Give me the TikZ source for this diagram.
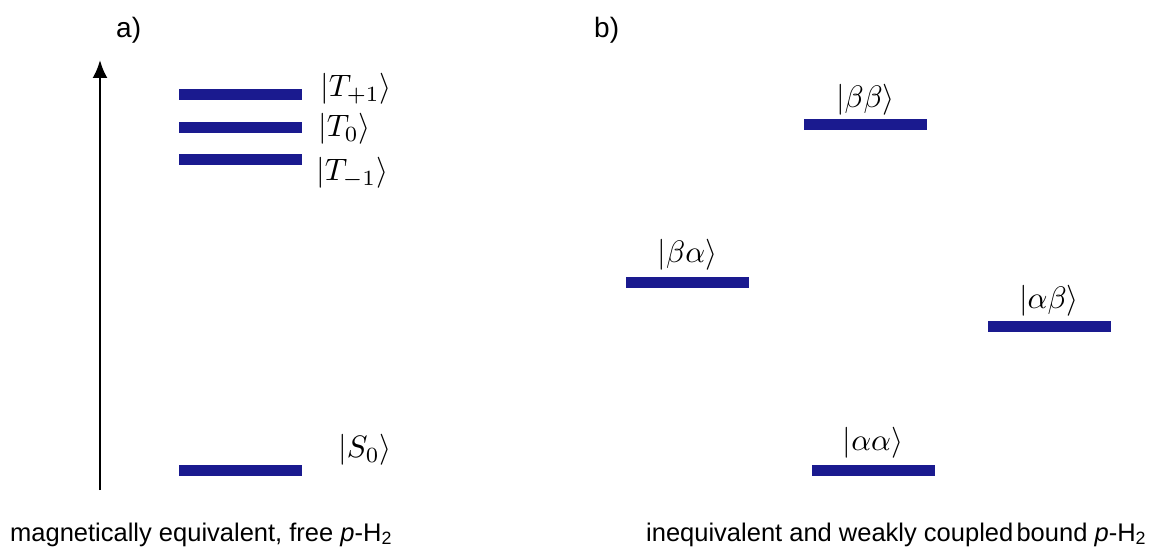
\documentclass[tikz,border=0pt]{standalone}
\usepackage{fontspec}
\setmainfont{Liberation Sans}
\usetikzlibrary{arrows.meta,positioning}
\definecolor{levelblue}{RGB}{26,26,143}
\newcommand{\ketlabel}[1]{\scalebox{3.1}{$#1$}}

\begin{document}
\begin{tikzpicture}[x=1pt,y=-1pt,
    level/.style={fill=levelblue,minimum width=123pt,minimum height=11pt,inner sep=0pt},
    ket/.style={inner sep=0pt},
    panel/.style={font=\fontsize{28}{30}\selectfont,inner sep=0pt,anchor=base west},
    caption/.style={font=\fontsize{25.5}{28}\selectfont,inner sep=0pt,anchor=base west}]
  \useasboundingbox (0,0) rectangle (1151,548);

  % panel labels
  \node[panel] (pa) at (116,38) {a)};
  \node[panel] (pb) at (594,38) {b)};

  % energy axis
  \coordinate (ebot) at (100,490);
  \coordinate (etop) at (100,60);
  \draw[line width=2.5pt,-{Latex[length=18pt,width=15pt]}] (ebot) -- (etop);

  % a) singlet and triplets
  \node[level] (tp) at (240,95) {};
  \node[level] (tz) at (240,128) {};
  \node[level] (tm) at (240,160) {};
  \node[level] (sz) at (240,470) {};
  \node[ket,anchor=west] (ktp) at (320,89) {\ketlabel{|T_{+1}\rangle}};
  \node[ket,anchor=west] (ktz) at (318,129) {\ketlabel{|T_0\rangle}};
  \node[ket,anchor=west] (ktm) at (316,173) {\ketlabel{|T_{-1}\rangle}};
  \node[ket,anchor=west] (ksz) at (338,450) {\ketlabel{|S_0\rangle}};

  % b) product states
  \node[level] (bb) at (865.5,125) {};
  \node[level] (ba) at (687.5,282) {};
  \node[level] (ab) at (1049,326) {};
  \node[level] (aa) at (873,470) {};
  \node[ket,above=4pt of bb] (kbb) {\ketlabel{|\beta\beta\rangle}};
  \node[ket,above=6pt of ba] (kba) {\ketlabel{|\beta\alpha\rangle}};
  \node[ket,above=4pt of ab] (kab) {\ketlabel{|\alpha\beta\rangle}};
  \node[ket,above=6pt of aa] (kaa) {\ketlabel{|\alpha\alpha\rangle}};

  % captions
  \node[caption] (ca) at (10,541) {magnetically equivalent, free \textit{p}-H\textsubscript{2}};
  \node[caption] (cb) at (646,541) {inequivalent and weakly coupled\hspace{-0.15em} bound \textit{p}-H\textsubscript{2}};
\end{tikzpicture}
\end{document}
